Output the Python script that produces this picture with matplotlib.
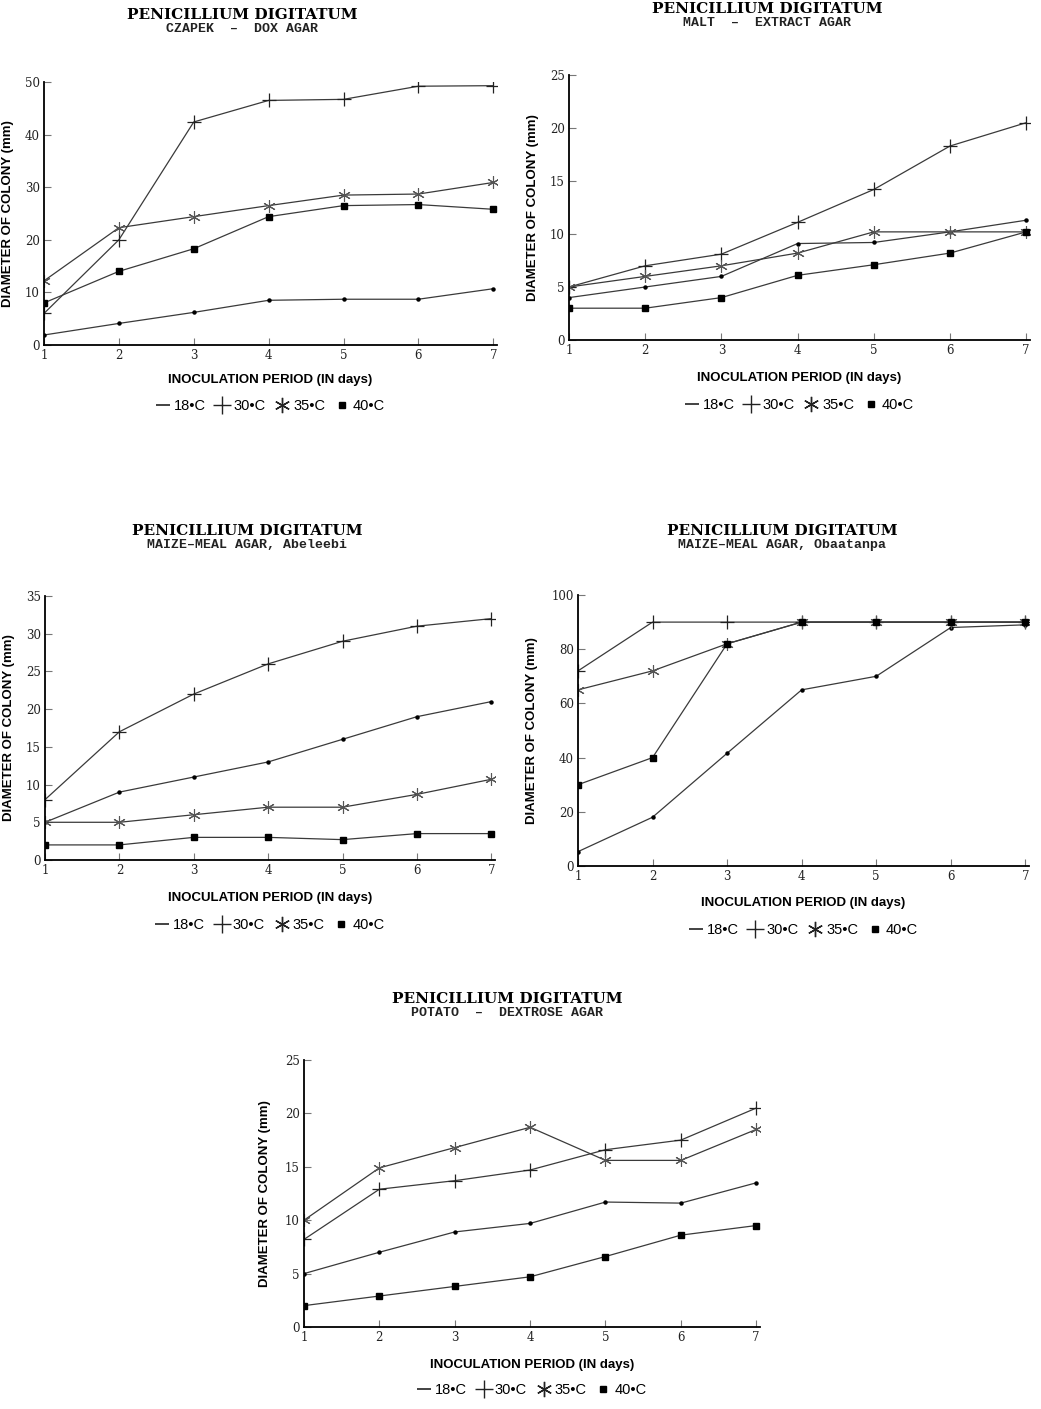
import numpy as np
import matplotlib.pyplot as plt
from matplotlib.lines import Line2D

# dni inkubacji
days = [1, 2, 3, 4, 5, 6, 7]

# CZAPEK - DOX AGAR
czapek_18 = [1.9, 4.1, 6.2, 8.5, 8.7, 8.7, 10.7]
czapek_30 = [6, 20, 42.4, 46.5, 46.7, 49.2, 49.3]
czapek_35 = [12.2, 22.3, 24.4, 26.5, 28.5, 28.7, 30.9]
czapek_40 = [8, 14, 18.3, 24.4, 26.5, 26.7, 25.8]

# MALT - EXTRACT AGAR
malt_18 = [4, 5, 6, 9.1, 9.2, 10.2, 11.3]
malt_30 = [5, 7, 8.1, 11.1, 14.2, 18.3, 20.5]
malt_35 = [5, 6, 7, 8.2, 10.2, 10.2, 10.2]
malt_40 = [3, 3, 4, 6.1, 7.1, 8.2, 10.2]

# MAIZE-MEAL AGAR, Abeleebi
abel_18 = [5, 9, 11, 13, 16, 19, 21]
abel_30 = [8, 17, 22, 26, 29, 31, 32]
abel_35 = [5, 5, 6, 7, 7, 8.7, 10.7]
abel_40 = [2, 2, 3, 3, 2.7, 3.5, 3.5]

# MAIZE-MEAL AGAR, Obaatanpa
obaa_18 = [5.3, 18, 41.6, 65, 70, 88, 89]
obaa_30 = [72, 90, 90, 90, 90, 90, 90]
obaa_35 = [65, 72, 82, 90, 90, 90, 90]
obaa_40 = [30, 40, 82, 90, 90, 90, 90]

# POTATO - DEXTROSE AGAR
pota_18 = [5, 7, 8.9, 9.7, 11.7, 11.6, 13.5]
pota_30 = [8.2, 12.9, 13.7, 14.7, 16.6, 17.5, 20.5]
pota_35 = [10, 14.9, 16.8, 18.7, 15.6, 15.6, 18.5]
pota_40 = [2, 2.9, 3.8, 4.7, 6.6, 8.6, 9.5]

temps = ['18•C', '30•C', '35•C', '40•C']

W, H = 1041, 1409
fig = plt.figure(figsize=(W / 100, H / 100), dpi=100)

serif = 'DejaVu Serif'
sans = 'Liberation Sans'
mono = 'Liberation Mono'
lc = '#3a3a3a'
asterisk = (6, 2, 0)


def px(x, y):
    return x / W, 1 - y / H


def panel(rect, series, ymax, ystep, subtitle, title_xy, xlabel_y, legend_y, ylab_x):
    ax = fig.add_axes(rect)
    s18, s30, s35, s40 = series
    ax.plot(days, s18, '-', color=lc, lw=0.9, marker='o', ms=2.2, mfc='k', mec='k')
    ax.plot(days, s30, '-', color=lc, lw=0.9, marker='+', ms=10, mec='#222', mew=0.9)
    ax.plot(days, s35, '-', color=lc, lw=0.9, marker=asterisk, ms=9, mec='#555', mew=0.8)
    ax.plot(days, s40, '-', color=lc, lw=0.9, marker='s', ms=4, mfc='k', mec='k')

    ax.set_xlim(1, 7.05)
    ax.set_ylim(0, ymax)
    ax.set_xticks(days)
    ax.set_yticks(np.arange(0, ymax + 1, ystep))
    ax.spines['top'].set_visible(False)
    ax.spines['right'].set_visible(False)
    ax.spines['left'].set_linewidth(1.3)
    ax.spines['bottom'].set_linewidth(1.3)
    ax.tick_params(axis='x', direction='in', length=5, width=0.8, pad=3,
                   labelsize=8.5, labelfontfamily=serif, color='#777', labelcolor='#222')
    ax.tick_params(axis='y', direction='in', length=5, width=0.8, pad=3,
                   labelsize=8.5, labelfontfamily=serif, color='#777', labelcolor='#222')
    ax.set_ylabel('DIAMETER OF COLONY (mm)', fontfamily=sans, fontweight='bold',
                  fontsize=9.5)
    ax.yaxis.set_label_coords((ylab_x - rect[0] * W) / (rect[2] * W), 0.5)

    cx = (rect[0] + rect[2] / 2) * W
    fig.text(*px(title_xy[0], title_xy[1]), 'PENICILLIUM DIGITATUM', ha='center',
             va='center', fontfamily=serif, fontweight='bold', fontsize=11)
    fig.text(*px(title_xy[0], title_xy[1] + 14), subtitle, ha='center', va='center',
             fontfamily=mono, fontweight='bold', fontsize=9.5, color='#222')
    fig.text(*px(cx, xlabel_y), 'INOCULATION PERIOD (IN days)', ha='center',
             va='center', fontfamily=sans, fontweight='bold', fontsize=9.5)

    handles = [
        Line2D([], [], ls='none', marker='_', ms=10, mec='#222', mew=1.2),
        Line2D([], [], ls='none', marker='+', ms=13, mec='#222', mew=1.0),
        Line2D([], [], ls='none', marker=asterisk, ms=11, mec='#222', mew=1.0),
        Line2D([], [], ls='none', marker='s', ms=4.5, mfc='k', mec='k'),
    ]
    fig.legend(handles, temps, loc='center', bbox_to_anchor=px(cx, legend_y),
               ncol=4, frameon=False, handlelength=0.9, handletextpad=0.3,
               columnspacing=0.7, prop={'family': sans, 'size': 10.5})
    return ax


panel([44 / W, 1 - 345 / H, 453 / W, 263 / H],
      (czapek_18, czapek_30, czapek_35, czapek_40), 50, 10,
      'CZAPEK  –  DOX AGAR', (242, 15), 380, 406, 14)
panel([569 / W, 1 - 340 / H, 461 / W, 265 / H],
      (malt_18, malt_30, malt_35, malt_40), 25, 5,
      'MALT  –  EXTRACT AGAR', (767, 9), 378, 405, 539)
panel([45 / W, 1 - 860 / H, 450 / W, 264 / H],
      (abel_18, abel_30, abel_35, abel_40), 35, 5,
      'MAIZE–MEAL AGAR, Abeleebi', (247, 531), 898, 925, 15)
panel([578 / W, 1 - 866 / H, 451 / W, 271 / H],
      (obaa_18, obaa_30, obaa_35, obaa_40), 100, 20,
      'MAIZE–MEAL AGAR, Obaatanpa', (782, 531), 903, 930, 538)
panel([304 / W, 1 - 1327 / H, 456 / W, 267 / H],
      (pota_18, pota_30, pota_35, pota_40), 25, 5,
      'POTATO  –  DEXTROSE AGAR', (507, 999), 1365, 1390, 271)

fig.savefig('out.png', dpi=100, facecolor='white')
